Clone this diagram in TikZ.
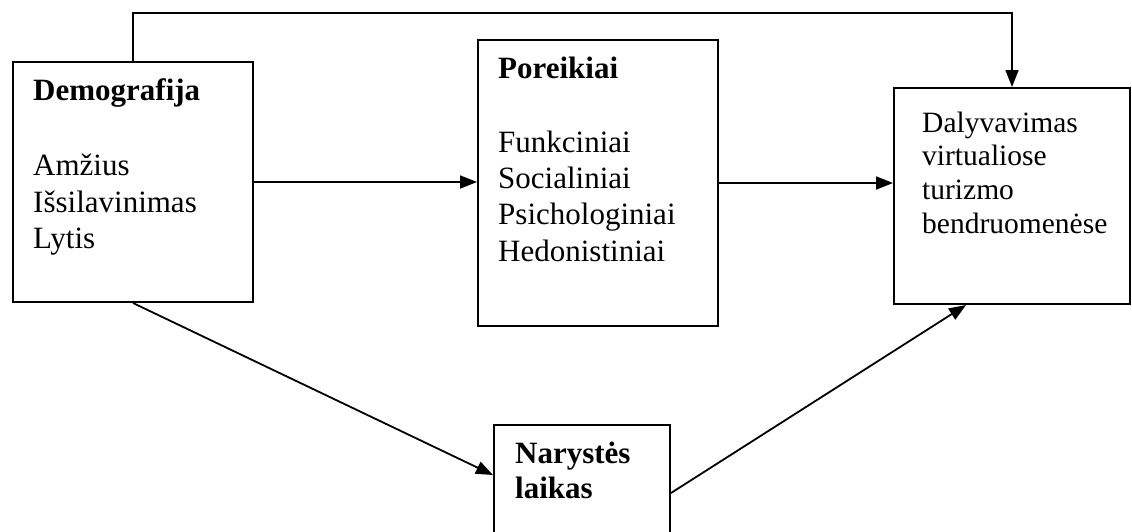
\documentclass[tikz,border=0pt]{standalone}
\usepackage{fontspec}
\setmainfont{Liberation Serif}
\usetikzlibrary{arrows.meta}
\begin{document}
\begin{tikzpicture}[x=1pt,y=-1pt,
  box/.style={draw, line width=2pt, inner sep=0pt, minimum width=#1},
  lbl/.style={anchor=base west, inner sep=0pt, font=\fontsize{31}{36}\selectfont},
  lblb/.style={lbl, font=\fontsize{31}{36}\selectfont\bfseries},
  lbls/.style={anchor=base west, inner sep=0pt, font=\fontsize{29.5}{34}\selectfont},
  conn/.style={line width=1.8pt, -{Triangle[length=17pt,width=13pt]}}
]
\useasboundingbox (0,0) rectangle (1132,531);
\clip (0,0) rectangle (1132,531);

% boxes
\node[box=240pt, minimum height=240pt, anchor=north west] (demo) at (12,61) {};
\node[box=240pt, minimum height=286pt, anchor=north west] (por) at (477,39) {};
\node[box=236pt, minimum height=216pt, anchor=north west] (dal) at (893,87) {};
\node[box=176pt, minimum height=140pt, anchor=north west] (nar) at (493,424) {};

% texts
\node[lblb] (d0) at (33,100) {Demografija};
\node[lbl] (d1) at (33,175) {Amžius};
\node[lbl] (d2) at (33,212) {Išsilavinimas};
\node[lbl] (d3) at (33,248) {Lytis};

\node[lblb] (p0) at (498,78) {Poreikiai};
\node[lbl] (p1) at (498,152) {Funkciniai};
\node[lbl] (p2) at (498,188) {Socialiniai};
\node[lbl] (p3) at (498,224) {Psichologiniai};
\node[lbl] (p4) at (498,261) {Hedonistiniai};

\node[lbls] (a1) at (922,132) {Dalyvavimas};
\node[lbls] (a2) at (922,165) {virtualiose};
\node[lbls] (a3) at (922,199) {turizmo};
\node[lbls] (a4) at (922,233) {bendruomenėse};

\node[lblb] (n1) at (515,463) {Narystės};
\node[lblb] (n2) at (515,498) {laikas};

% connectors
\coordinate (topy) at (0,13);
\draw[conn] (demo.north) -- (demo.north |- topy) -| (dal.north);
\draw[conn] (demo.east) -- (demo.east -| por.west);
\draw[conn] (por.east) -- (por.east -| dal.west);
\draw[conn] (demo.south) -- ([yshift=-51pt]nar.north west);
\draw[conn] ([yshift=-69pt]nar.north east) -- ([xshift=-46pt]dal.south);
\end{tikzpicture}
\end{document}
